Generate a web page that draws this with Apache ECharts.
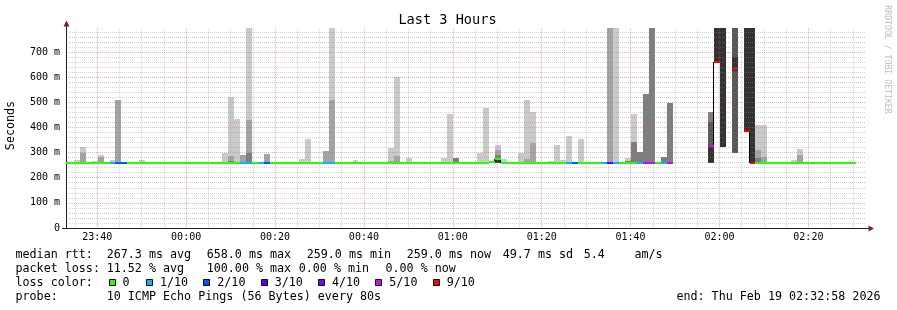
<!DOCTYPE html>
<html><head><meta charset="utf-8">
<script src="https://cdn.jsdelivr.net/npm/echarts@6/dist/echarts.min.js"></script>
<style>html,body{margin:0;padding:0;background:#fff}#c{width:897px;height:310px}</style>
</head><body><div id="c"></div>
<script>
// ---------------- data ----------------
const titleText = 'Last 3 Hours';
const yAxisTitle = 'Seconds';
const watermark = 'RRDTOOL / TOBI OETIKER';
const startClock = '23:32:58';          // start of the 3 hour window
const rangeSeconds = 10800;
const stepSeconds = 80;                  // probe interval
const firstStepOffset = 108;             // seconds from start to step k=0
const firstStepIndex = -2;               // k of first entry in per-step arrays

const xTickLabels = ['23:40','00:00','00:20','00:40','01:00','01:20','01:40','02:00','02:20'];
const xMinorLabels = ['23:35','23:45','23:50','23:55','00:05','00:10','00:15','00:25','00:30','00:35',
  '00:45','00:50','00:55','01:05','01:10','01:15','01:25','01:30','01:35','01:45','01:50','01:55',
  '02:05','02:10','02:15','02:25','02:30'];
const yTickValues = [0,100,200,300,400,500,600,700];
const yMinorValues = [20,40,60,80,120,140,160,180,220,240,260,280,320,340,360,380,420,440,460,480,
  520,540,560,580,620,640,660,680,720,740,760,780];
const yMax = 795.5;

// smoke bands: [step k, low ms, high ms, shade 1(light)..5(dark)]
const smokeBands = [
  [0,259,270,1],
  [1,259,297,2],[1,297,322,1],
  [3,259,266,1],
  [4,259,283,2],[4,283,290,1],
  [6,259,270,1],
  [7,259,509,2],
  [11,259,270,1],
  [25,259,300,1],
  [26,259,265,3],[26,265,286,2],[26,286,522,1],
  [27,259,435,1],
  [28,259,290,2],
  [29,259,300,3],[29,300,430,2],[29,430,795.5,1],
  [32,259,294,2],
  [38,259,274,1],
  [39,259,354,1],
  [42,259,306,2],
  [43,259,509,2],[43,509,795.5,1],
  [47,259,270,1],
  [53,259,265,2],[53,265,320,1],
  [54,259,286,2],[54,286,602,1],
  [56,259,278,1],
  [62,259,278,1],
  [63,259,453,1],
  [64,259,278,3],
  [68,259,300,1],
  [69,259,477,1],
  [71,259,274,5],[71,274,290,3],[71,290,310,2],[71,310,330,1],
  [72,259,273,1],
  [75,259,300,1],
  [76,259,273,2],[76,273,509,1],
  [77,259,339,2],[77,339,461,1],
  [80,259,268,1],
  [81,259,330,1],
  [82,259,270,1],
  [83,259,366,1],
  [85,259,354,1],
  [90,259,795.5,2],
  [91,259,795.5,1],
  [93,259,265,3],[93,265,278,1],
  [94,259,343,3],[94,343,453,1],
  [95,259,302,3],
  [96,259,533,3],
  [97,259,795.5,3],
  [99,259,284,3],
  [100,259,499,3],
  [107,260,325,5],[107,325,423,4],[107,423,462,3],
  [108,660,795.5,5],
  [109,323,795.5,5],
  [111,297,626,4],[111,626,681,5],[111,681,795.5,4],
  [113,384,795.5,5],
  [114,259,795.5,5],
  [115,259,278,3],[115,278,310,2],[115,310,410,1],
  [116,259,284,2],[116,284,410,1],
  [121,259,272,1],
  [122,259,290,2],[122,290,314,1]
];

// median rtt per step (ms), k = -2 .. 131
const medianMs = [
  259,259,259,259,259,259,259,259,259,259,   // k -2..7
  259,259,259,259,259,259,259,259,259,259,   // 8..17
  259,259,259,259,259,259,259,259,259,259,   // 18..27
  259,259,259,259,259,259,259,259,259,259,   // 28..37
  259,259,259,259,259,259,259,259,259,259,   // 38..47
  259,259,259,259,259,259,259,259,259,259,   // 48..57
  259,259,259,259,259,259,259,259,259,259,   // 58..67
  259,259,261,274,259,259,259,259,259,259,   // 68..77
  259,259,259,259,259,259,259,259,259,259,   // 78..87
  259,259,259,259,259,259,259,259,259,259,   // 88..97
  259,259,259,null,null,null,null,null,null,325, // 98..107
  660,null,null,631,null,384,259,259,259,259, // 108..117
  259,259,259,259,259,259,259,259,259,259,   // 118..127
  259,259,259,259                            // 128..131
];
// lost pings (of 10) per step, k = -2 .. 131
const lossPerStep = [
  0,0,0,0,0,0,0,0,1,2,
  2,0,0,0,0,0,0,0,0,0,
  0,0,0,0,0,0,0,0,0,0,
  1,1,0,1,2,0,0,0,0,0,
  0,0,0,0,1,1,0,0,0,0,
  0,0,0,0,0,0,0,0,0,0,
  0,0,0,0,0,0,0,0,0,0,
  0,0,0,0,0,0,0,0,0,0,
  0,0,0,0,0,1,2,0,0,0,
  0,1,3,1,0,0,0,1,5,5,
  0,1,5,10,10,10,10,10,10,5,
  9,10,10,9,10,9,9,0,0,0,
  0,0,0,0,0,0,0,0,0,0,
  0,0,0,0
];

const lossLegendLevels = [0,1,2,3,4,5,9];
const lossLegendLabels = ['0','1/10','2/10','3/10','4/10','5/10','9/10'];
const lossLegendColors = ['#26ff00','#00b8ff','#0059ff','#5e00ff','#7e00ff','#dd00ff','#ff0000'];
const smokeGreys = ['#cacaca','#a4a4a4','#7e7e7e','#585858','#323232'];

const rttLabel = 'median rtt:';
const rttStats = ['267.3 ms avg','658.0 ms max','259.0 ms min','259.0 ms now','49.7 ms sd','5.4','am/s'];
const lossLabel = 'packet loss:';
const lossStats = ['11.52 % avg','100.00 % max','0.00 % min','0.00 % now'];
const lossColorLabel = 'loss color:';
const probeLabel = 'probe:';
const probeText = '10 ICMP Echo Pings (56 Bytes) every 80s';
const endText = 'end: Thu Feb 19 02:32:58 2026';

// ---------------- helpers ----------------
const MONO = 'DejaVu Sans Mono';
function clockToSec(s) {
  const p = s.split(':').map(Number);
  const st = startClock.split(':').map(Number);
  let t = p[0]*3600 + p[1]*60 + (p[2]||0) - (st[0]*3600 + st[1]*60 + st[2]);
  if (t < 0) t += 86400;
  return t;
}
const xMajorVals = xTickLabels.map(clockToSec);
const xMinorVals = xMinorLabels.map(clockToSec);
function stepStart(k) {
  return Math.min(rangeSeconds, Math.max(0, firstStepOffset + stepSeconds * k));
}
function lossColor(n) {
  let c = lossLegendColors[0];
  for (let i = 0; i < lossLegendLevels.length; i++) if (n >= lossLegendLevels[i]) c = lossLegendColors[i];
  return c;
}
const smokeData = smokeBands.map(([k, lo, hi, s]) => [stepStart(k), stepStart(k + 1), lo, hi, s]);
const medianData = [];
const joinData = [];
medianMs.forEach((ms, i) => {
  const k = i + firstStepIndex;
  if (ms != null) medianData.push([stepStart(k), stepStart(k + 1), ms, lossPerStep[i]]);
  const nx = medianMs[i + 1];
  if (ms != null && nx != null && nx !== ms) joinData.push([stepStart(k + 1), ms, nx]);
});

function renderBand(params, api) {
  const a = api.coord([api.value(0), api.value(3)]);
  const b = api.coord([api.value(1), api.value(2)]);
  const x0 = Math.round(a[0]), x1 = Math.round(b[0]);
  const y0 = Math.round(a[1]), y1 = Math.round(b[1]);
  return { type: 'rect', shape: { x: x0, y: y0, width: x1 - x0, height: y1 - y0 },
    style: { fill: smokeGreys[api.value(4) - 1] } };
}
function renderMedian(params, api) {
  const a = api.coord([api.value(0), api.value(2)]);
  const b = api.coord([api.value(1), api.value(2)]);
  const x0 = Math.round(a[0]), x1 = Math.round(b[0]);
  const y = Math.round(a[1]);
  return { type: 'rect', shape: { x: x0, y: y - 1, width: x1 - x0, height: 2 },
    style: { fill: lossColor(api.value(3)) } };
}
function renderJoin(params, api) {
  const a = api.coord([api.value(0), api.value(1)]);
  const b = api.coord([api.value(0), api.value(2)]);
  const x = Math.round(a[0]) - 0.5;
  return { type: 'line', shape: { x1: x, y1: Math.round(a[1]), x2: x, y2: Math.round(b[1]) },
    style: { stroke: '#000', lineWidth: 1 } };
}

const minorGrid = { color: 'rgba(143,143,143,0.38)', width: 1, type: [1, 1] };
const majorGrid = { color: 'rgba(222,79,79,0.45)', width: 1, type: [1, 1] };

// legend graphics
const graphics = [];
function txt(x, y, s, opt) {
  graphics.push(Object.assign({ type: 'text', x: x, y: y, z: 10,
    style: Object.assign({ text: s, font: '11.7px "' + MONO + '"', fill: '#000', align: 'left', verticalAlign: 'middle' }, opt || {}) }));
}
graphics.push({ type: 'text', x: 447.5, y: 20, z: 10,
  style: { text: titleText, font: '13.6px "' + MONO + '"', fill: '#000', align: 'center', verticalAlign: 'middle' } });
graphics.push({ type: 'text', x: 11, y: 125.5, rotation: Math.PI / 2, z: 10,
  style: { text: yAxisTitle, font: '11.7px "' + MONO + '"', fill: '#000', align: 'center', verticalAlign: 'middle' } });
graphics.push({ type: 'text', x: 887, y: 59.5, rotation: -Math.PI / 2, z: 10,
  style: { text: watermark, font: '8.2px "' + MONO + '"', fill: '#c0c0c0', align: 'center', verticalAlign: 'middle' } });

const row = [254.6, 268.6, 282.6, 296.6];
txt(15.5, row[0], rttLabel);
[106.7, 206.7, 306.7, 406.7, 502.7, 583.7, 634.5].forEach((x, i) => txt(x, row[0], rttStats[i]));
txt(15.5, row[1], lossLabel);
[106.7, 206.7, 298.7, 385.5].forEach((x, i) => txt(x, row[1], lossStats[i]));
txt(15.5, row[2], lossColorLabel);
const boxX = [108.5, 146, 203.3, 260.7, 318, 375.3, 432.7];
boxX.forEach((bx, i) => {
  const x = Math.round(bx) + 0.5;
  graphics.push({ type: 'rect', z: 10, shape: { x: x, y: 279.5, width: 6, height: 6 },
    style: { fill: lossLegendColors[i], stroke: '#000', lineWidth: 1 } });
  txt(bx + 14, row[2], lossLegendLabels[i]);
});
txt(15.5, row[3], probeLabel);
txt(106.7, row[3], probeText);
txt(880.5, row[3], endText, { align: 'right' });

// axis decorations (extensions and arrows)
graphics.push({ type: 'line', z: 10, shape: { x1: 66.5, y1: 28, x2: 66.5, y2: 25 }, style: { stroke: '#202020', lineWidth: 1 } });
graphics.push({ type: 'polygon', z: 10, shape: { points: [[63.5, 26.5], [69.5, 26.5], [66.5, 20.5]] }, style: { fill: '#7f1f1f' } });
graphics.push({ type: 'line', z: 10, shape: { x1: 62, y1: 228.5, x2: 66, y2: 228.5 }, style: { stroke: '#202020', lineWidth: 1 } });
graphics.push({ type: 'line', z: 10, shape: { x1: 866, y1: 228.5, x2: 869, y2: 228.5 }, style: { stroke: '#202020', lineWidth: 1 } });
graphics.push({ type: 'polygon', z: 10, shape: { points: [[868.5, 225.5], [868.5, 231.5], [874, 228.5]] }, style: { fill: '#7f1f1f' } });

const chart = echarts.init(document.getElementById('c'), null, { renderer: 'canvas', width: 897, height: 310 });
chart.setOption({
  animation: false,
  backgroundColor: '#ffffff',
  grid: { left: 66, top: 28, width: 800, height: 200, containLabel: false },
  xAxis: [
    { type: 'value', position: 'bottom', min: 0, max: rangeSeconds, z: 3,
      axisLine: { show: false }, axisTick: { show: false, customValues: xMinorVals },
      axisLabel: { show: false }, splitLine: { show: true, lineStyle: minorGrid } },
    { type: 'value', position: 'bottom', min: 0, max: rangeSeconds, z: 4,
      axisLine: { show: true, lineStyle: { color: '#202020', width: 1 } },
      axisTick: { show: false, customValues: xMajorVals },
      axisLabel: { customValues: xMajorVals, margin: 4, color: '#000', fontFamily: MONO, fontSize: 10,
        formatter: v => xTickLabels[xMajorVals.indexOf(v)] },
      splitLine: { show: true, lineStyle: majorGrid } }
  ],
  yAxis: [
    { type: 'value', position: 'left', min: 0, max: yMax, z: 3,
      axisLine: { show: false }, axisTick: { show: false, customValues: yMinorValues },
      axisLabel: { show: false }, splitLine: { show: true, lineStyle: minorGrid } },
    { type: 'value', position: 'left', min: 0, max: yMax, z: 4,
      axisLine: { show: true, lineStyle: { color: '#202020', width: 1 } },
      axisTick: { show: false, customValues: yTickValues },
      axisLabel: { customValues: yTickValues, margin: 6, color: '#000', fontFamily: MONO, fontSize: 10,
        formatter: v => (v === 0 ? '0' : v + ' m') },
      splitLine: { show: true, lineStyle: majorGrid } }
  ],
  series: [
    { type: 'custom', name: 'smoke', xAxisIndex: 1, yAxisIndex: 1, z: 2, silent: true,
      renderItem: renderBand, data: smokeData, encode: { x: [0, 1], y: [2, 3] } },
    { type: 'custom', name: 'median joins', xAxisIndex: 1, yAxisIndex: 1, z: 5, silent: true,
      renderItem: renderJoin, data: joinData, encode: { x: [0], y: [1, 2] } },
    { type: 'custom', name: 'median rtt', xAxisIndex: 1, yAxisIndex: 1, z: 6, silent: true,
      renderItem: renderMedian, data: medianData, encode: { x: [0, 1], y: [2] } }
  ],
  graphic: graphics
});
</script></body></html>
